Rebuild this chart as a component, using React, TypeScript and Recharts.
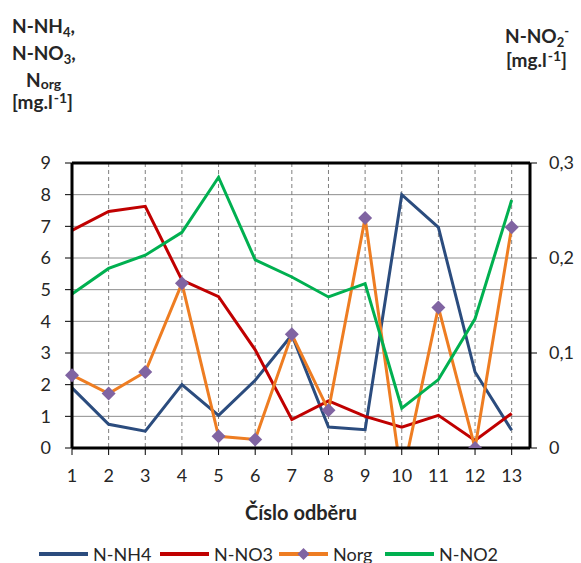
import React from "react";
import {
  LineChart,
  Line,
  XAxis,
  YAxis,
  CartesianGrid,
  ReferenceLine
} from "recharts";

const samples = [1, 2, 3, 4, 5, 6, 7, 8, 9, 10, 11, 12, 13];
const nh4 = [1.9, 0.75, 0.53, 2.0, 1.03, 2.14, 3.57, 0.66, 0.58, 8.0, 6.97, 2.4, 0.56];
const no3 = [6.87, 7.47, 7.63, 5.3, 4.78, 3.1, 0.9, 1.49, 1.0, 0.66, 1.03, 0.24, 1.09];
const norg = [2.3, 1.72, 2.4, 5.2, 0.37, 0.27, 3.59, 1.19, 7.26, -1.0, 4.44, 0.0, 6.97];
const no2 = [0.162, 0.189, 0.203, 0.227, 0.285, 0.198, 0.18, 0.159, 0.173, 0.042, 0.072, 0.136, 0.261];

const leftTicks = [0, 1, 2, 3, 4, 5, 6, 7, 8, 9];
const rightTicks = [0, 0.1, 0.2, 0.3];

const FONT = "Lato, 'Open Sans', sans-serif";
const TEXT = "#262626";

const COLORS = {
  nh4: "#2B4C7E",
  no3: "#C00000",
  norg: "#EE7D22",
  marker: "#8064A2",
  no2: "#00B050"
};

const chartData = samples.map((s, i) => ({
  x: s,
  nh4: nh4[i],
  no3: no3[i],
  norg: norg[i],
  no2: no2[i]
}));

// purple diamond marker for Norg
const Diamond = (props: any) => {
  const { cx, cy, index } = props;
  if (cx == null || cy == null) return <g key={index} />;
  const r = 7;
  return (
    <path
      key={index}
      d={`M${cx},${cy - r} L${cx + r},${cy} L${cx},${cy + r} L${cx - r},${cy} Z`}
      fill={COLORS.marker}
    />
  );
};

const legendItems = [
  { label: "N-NH4", color: COLORS.nh4, marker: false },
  { label: "N-NO3", color: COLORS.no3, marker: false },
  { label: "Norg", color: COLORS.norg, marker: true },
  { label: "N-NO2", color: COLORS.no2, marker: false }
];
// left edge of each legend key line
const legendX = [39, 160, 279, 385];

export default function App() {
  return (
    <div
      style={{
        position: "absolute",
        left: 0,
        top: 0,
        width: 581,
        height: 563,
        overflow: "hidden",
        background: "#fff"
      }}
    >
      <LineChart
        width={581}
        height={563}
        data={chartData}
        margin={{ top: 163, right: 0, bottom: 0, left: 0 }}
        style={{ position: "absolute", left: 0, top: 0 }}
      >
        <CartesianGrid yAxisId="left" vertical={false} stroke="#8C8C8C" strokeWidth={1} />
        <CartesianGrid yAxisId="left" horizontal={false} stroke="#7F7F7F" strokeDasharray="4 3" />
        <XAxis
          dataKey="x"
          type="number"
          domain={[1, 13.5]}
          ticks={samples}
          height={115}
          axisLine={{ stroke: "#000", strokeWidth: 3 }}
          tickLine={{ stroke: "#000" }}
          tickSize={7}
          tickMargin={14}
          tick={{ fill: TEXT, fontSize: 18, fontFamily: FONT }}
          interval={0}
        />
        <YAxis
          yAxisId="left"
          domain={[0, 9]}
          ticks={leftTicks}
          allowDataOverflow
          width={72}
          axisLine={{ stroke: "#000", strokeWidth: 3 }}
          tickLine={{ stroke: "#000" }}
          tickSize={7}
          tickMargin={14}
          tick={{ fill: TEXT, fontSize: 18, fontFamily: FONT }}
          interval={0}
        />
        <YAxis
          yAxisId="right"
          orientation="right"
          domain={[0, 0.3]}
          ticks={rightTicks}
          width={51}
          axisLine={{ stroke: "#000", strokeWidth: 3 }}
          tickLine={{ stroke: "#000" }}
          tickSize={7}
          tickMargin={12}
          tick={{ fill: TEXT, fontSize: 18, fontFamily: FONT }}
          tickFormatter={(v: number) => String(v).replace(".", ",")}
          interval={0}
        />
        <ReferenceLine yAxisId="left" y={9} stroke="#000" strokeWidth={3} />
        <Line yAxisId="left" dataKey="nh4" stroke={COLORS.nh4} strokeWidth={3} dot={false} isAnimationActive={false} />
        <Line yAxisId="left" dataKey="no3" stroke={COLORS.no3} strokeWidth={3} dot={false} isAnimationActive={false} />
        <Line yAxisId="left" dataKey="norg" stroke={COLORS.norg} strokeWidth={3} dot={<Diamond />} isAnimationActive={false} />
        <Line yAxisId="right" dataKey="no2" stroke={COLORS.no2} strokeWidth={3} dot={false} isAnimationActive={false} />
      </LineChart>

      {/* axis captions, x-axis title and legend */}
      <svg
        width={581}
        height={563}
        style={{ position: "absolute", left: 0, top: 0, pointerEvents: "none" }}
        fontFamily={FONT}
        fill={TEXT}
      >
        <g fontWeight={700}>
          <text x={12} y={33} fontSize={19}>
            N-NH<tspan fontSize={13} dy={4}>4</tspan><tspan dy={-4}>,</tspan>
          </text>
          <text x={12} y={60} fontSize={19}>
            N-NO<tspan fontSize={13} dy={4}>3</tspan><tspan dy={-4}>,</tspan>
          </text>
          <text x={26} y={87} fontSize={19}>
            N<tspan fontSize={14} dy={2}>org</tspan>
          </text>
          <text x={12} y={109} fontSize={19}>
            [mg.l<tspan fontSize={14} dx={1} dy={-6}>-1</tspan><tspan dy={6}>]</tspan>
          </text>

          <text x={505} y={43} fontSize={19}>
            N-NO<tspan fontSize={13} dy={4}>2</tspan><tspan fontSize={13} dy={-11}>-</tspan>
          </text>
          <text x={506} y={67} fontSize={19}>
            [mg.l<tspan fontSize={14} dx={1} dy={-6}>-1</tspan><tspan dy={6}>]</tspan>
          </text>

          <text x={301} y={520} fontSize={20} textAnchor="middle">Číslo odběru</text>
        </g>

        {legendItems.map((it, i) => (
          <g key={it.label} transform={`translate(${legendX[i]}, 554)`}>
            <line x1={0} y1={0} x2={49} y2={0} stroke={it.color} strokeWidth={4} />
            {it.marker && <path d="M24.5,-6 L30.5,0 L24.5,6 L18.5,0 Z" fill={COLORS.marker} />}
            <text x={54} y={7} fontSize={18}>{it.label}</text>
          </g>
        ))}
      </svg>
    </div>
  );
}
